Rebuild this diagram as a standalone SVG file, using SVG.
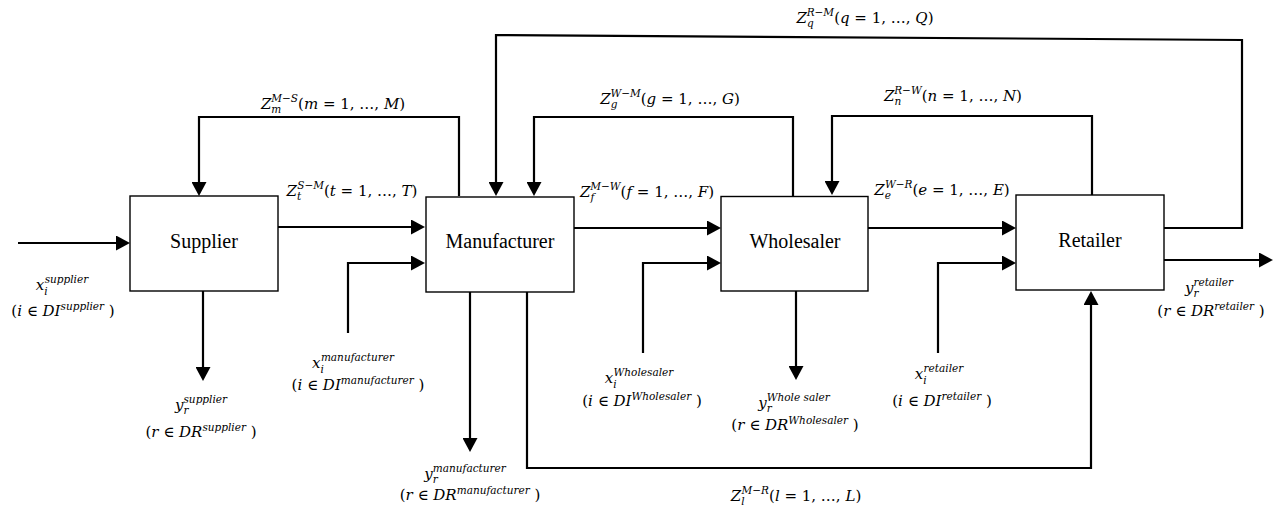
<svg xmlns="http://www.w3.org/2000/svg" width="1279" height="514" viewBox="0 0 1279 514">
<style>
.box{fill:#fff;stroke:#000;stroke-width:1.4}
.lbl{font-size:20px;fill:#000;text-anchor:middle}
.c{fill:none;stroke:#000;stroke-width:2.2;marker-end:url(#ah)}
.t{font-size:15px;fill:#000;text-anchor:middle}
.i{font-style:italic}
.s{font-size:10.5px;font-style:italic}
</style>
<defs>
<marker id="ah" viewBox="0 0 14 15" markerWidth="14" markerHeight="15" refX="11" refY="7.5" orient="auto" markerUnits="userSpaceOnUse">
<path d="M0,0 L14,7.5 L0,15 Z" fill="#000"/>
</marker>
</defs>
<rect width="1279" height="514" fill="#fff"/>
<g id="connectors">
<path class="c" d="M18,243 H127"/>
<path class="c" d="M278,227 H422"/>
<path class="c" d="M348,333 V263 H422"/>
<path class="c" d="M459,196 V117 H199 V193"/>
<path class="c" d="M203,291 V378"/>
<path class="c" d="M1164,228 H1242 V40 L496,35 V193"/>
<path class="c" d="M793,196 V117 H534 V193"/>
<path class="c" d="M574,228 H718"/>
<path class="c" d="M643,353 V263 H718"/>
<path class="c" d="M470,292 V449"/>
<path class="c" d="M527,292 V468 H1091 V294"/>
<path class="c" d="M796,291 V377"/>
<path class="c" d="M868,228 H1013"/>
<path class="c" d="M938,353 V263 H1013"/>
<path class="c" d="M1092,195 V116 H832 V192"/>
<path class="c" d="M1164,260 H1270"/>
<g font-family="DejaVu Serif, Liberation Serif, serif">
<text class="t" x="333" y="109"><tspan class="i">Z</tspan><tspan class="s" dy="4">m</tspan><tspan class="s" dx="-10" dy="-11">M−S</tspan><tspan dy="7">(</tspan><tspan class="i">m</tspan> = 1, …, <tspan class="i">M</tspan>)</text>
<text class="t" x="352" y="196"><tspan class="i">Z</tspan><tspan class="s" dy="4">t</tspan><tspan class="s" dx="-4" dy="-11">S−M</tspan><tspan dy="7">(</tspan><tspan class="i">t</tspan> = 1, …, <tspan class="i">T</tspan>)</text>
<text class="t" x="647" y="197"><tspan class="i">Z</tspan><tspan class="s" dy="4">f</tspan><tspan class="s" dx="-4" dy="-11">M−W</tspan><tspan dy="7">(</tspan><tspan class="i">f</tspan> = 1, …, <tspan class="i">F</tspan>)</text>
<text class="t" x="942" y="195"><tspan class="i">Z</tspan><tspan class="s" dy="4">e</tspan><tspan class="s" dx="-6" dy="-11">W−R</tspan><tspan dy="7">(</tspan><tspan class="i">e</tspan> = 1, …, <tspan class="i">E</tspan>)</text>
<text class="t" x="670" y="104"><tspan class="i">Z</tspan><tspan class="s" dy="4">g</tspan><tspan class="s" dx="-7" dy="-11">W−M</tspan><tspan dy="7">(</tspan><tspan class="i">g</tspan> = 1, …, <tspan class="i">G</tspan>)</text>
<text class="t" x="953" y="101"><tspan class="i">Z</tspan><tspan class="s" dy="4">n</tspan><tspan class="s" dx="-7" dy="-11">R−W</tspan><tspan dy="7">(</tspan><tspan class="i">n</tspan> = 1, …, <tspan class="i">N</tspan>)</text>
<text class="t" x="865" y="23"><tspan class="i">Z</tspan><tspan class="s" dy="4">q</tspan><tspan class="s" dx="-7" dy="-11">R−M</tspan><tspan dy="7">(</tspan><tspan class="i">q</tspan> = 1, …, <tspan class="i">Q</tspan>)</text>
<text class="t" x="796" y="501"><tspan class="i">Z</tspan><tspan class="s" dy="4">l</tspan><tspan class="s" dx="-3" dy="-11">M−R</tspan><tspan dy="7">(</tspan><tspan class="i">l</tspan> = 1, …, <tspan class="i">L</tspan>)</text>
<text class="t" x="62" y="290"><tspan class="i">x</tspan><tspan class="s" dy="5">i</tspan><tspan class="s" dx="-3" dy="-12">supplier</tspan></text>
<text class="t" x="63" y="316">(<tspan class="i">i</tspan> ∈ <tspan class="i">DI</tspan><tspan class="s" dy="-6">supplier</tspan><tspan dy="6"> )</tspan></text>
<text class="t" x="201" y="410"><tspan class="i">y</tspan><tspan class="s" dy="4">r</tspan><tspan class="s" dx="-5" dy="-11">supplier</tspan></text>
<text class="t" x="201" y="437">(<tspan class="i">r</tspan> ∈ <tspan class="i">DR</tspan><tspan class="s" dy="-6">supplier</tspan><tspan dy="6"> )</tspan></text>
<text class="t" x="353" y="368"><tspan class="i">x</tspan><tspan class="s" dy="5">i</tspan><tspan class="s" dx="-3" dy="-12">manufacturer</tspan></text>
<text class="t" x="358" y="390">(<tspan class="i">i</tspan> ∈ <tspan class="i">DI</tspan><tspan class="s" dy="-6">manufacturer</tspan><tspan dy="6"> )</tspan></text>
<text class="t" x="465" y="479"><tspan class="i">y</tspan><tspan class="s" dy="4">r</tspan><tspan class="s" dx="-5" dy="-11">manufacturer</tspan></text>
<text class="t" x="470" y="500">(<tspan class="i">r</tspan> ∈ <tspan class="i">DR</tspan><tspan class="s" dy="-6">manufacturer</tspan><tspan dy="6"> )</tspan></text>
<text class="t" x="639" y="383"><tspan class="i">x</tspan><tspan class="s" dy="5">i</tspan><tspan class="s" dx="-3" dy="-12">Wholesaler</tspan></text>
<text class="t" x="642" y="406">(<tspan class="i">i</tspan> ∈ <tspan class="i">DI</tspan><tspan class="s" dy="-6">Wholesaler</tspan><tspan dy="6"> )</tspan></text>
<text class="t" x="794" y="408"><tspan class="i">y</tspan><tspan class="s" dy="4">r</tspan><tspan class="s" dx="-5" dy="-11">Whole saler</tspan></text>
<text class="t" x="795" y="430">(<tspan class="i">r</tspan> ∈ <tspan class="i">DR</tspan><tspan class="s" dy="-6">Wholesaler</tspan><tspan dy="6"> )</tspan></text>
<text class="t" x="939" y="379"><tspan class="i">x</tspan><tspan class="s" dy="5">i</tspan><tspan class="s" dx="-3" dy="-12">retailer</tspan></text>
<text class="t" x="942" y="406">(<tspan class="i">i</tspan> ∈ <tspan class="i">DI</tspan><tspan class="s" dy="-6">retailer</tspan><tspan dy="6"> )</tspan></text>
<text class="t" x="1209" y="293"><tspan class="i">y</tspan><tspan class="s" dy="4">r</tspan><tspan class="s" dx="-5" dy="-11">retailer</tspan></text>
<text class="t" x="1211" y="316">(<tspan class="i">r</tspan> ∈ <tspan class="i">DR</tspan><tspan class="s" dy="-6">retailer</tspan><tspan dy="6"> )</tspan></text>
</g>
</g>
<g id="supplier">
<rect class="box" x="130" y="196" width="148" height="95"/>
<text class="lbl" x="204" y="248" font-family="Liberation Serif, Times New Roman, serif">Supplier</text>
</g>
<g id="manufacturer">
<rect class="box" x="426" y="197" width="148" height="95"/>
<text class="lbl" x="500" y="248" font-family="Liberation Serif, Times New Roman, serif">Manufacturer</text>
</g>
<g id="wholesaler">
<rect class="box" x="721" y="196.5" width="147" height="94.5"/>
<text class="lbl" x="795" y="248" font-family="Liberation Serif, Times New Roman, serif">Wholesaler</text>
</g>
<g id="retailer">
<rect class="box" x="1016" y="195" width="148" height="95"/>
<text class="lbl" x="1090" y="247" font-family="Liberation Serif, Times New Roman, serif">Retailer</text>
</g>
</svg>
